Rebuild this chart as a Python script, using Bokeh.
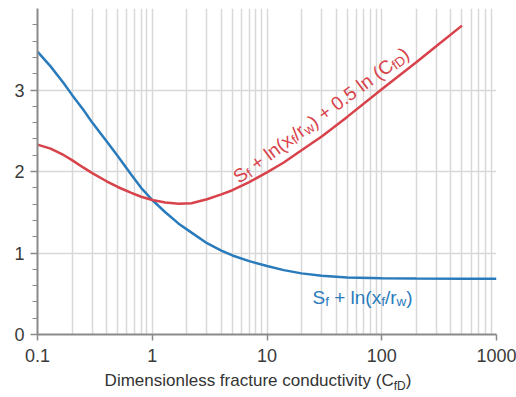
import math
from bokeh.plotting import figure
from bokeh.models import FixedTicker, Label, Div
from bokeh.layouts import column
from bokeh.embed import file_html
from bokeh.resources import INLINE

# ---- data ----
cfd_blue = [0.1, 0.13, 0.17, 0.2, 0.25, 0.3, 0.4, 0.5, 0.65, 0.8, 1.0, 1.3, 1.7, 2.2,
            3, 4, 5, 7, 10, 14, 20, 30, 50, 100, 200, 500, 1000]
blue_vals = [3.47, 3.29, 3.08, 2.94, 2.76, 2.60, 2.37, 2.19, 1.97, 1.80, 1.65, 1.50, 1.36, 1.25,
             1.12, 1.03, 0.97, 0.90, 0.84, 0.79, 0.75, 0.72, 0.70, 0.69, 0.686, 0.684, 0.683]

cfd_red = [0.1, 0.13, 0.17, 0.2, 0.25, 0.3, 0.4, 0.5, 0.65, 0.8, 1.0, 1.3, 1.7, 2.2,
           3, 4, 5, 7, 10, 14, 20, 30, 50, 100, 200, 300, 500]
red_vals = [2.33, 2.28, 2.20, 2.14, 2.05, 1.98, 1.88, 1.81, 1.74, 1.69, 1.65, 1.62, 1.605, 1.61,
            1.66, 1.72, 1.77, 1.87, 1.99, 2.11, 2.26, 2.43, 2.67, 3.01, 3.34, 3.54, 3.79]

x_ticks = [0.1, 1, 10, 100, 1000]
x_tick_labels = ["0.1", "1", "10", "100", "1000"]
x_minor = [m * d for d in [0.1, 1, 10, 100] for m in range(2, 10)]
y_ticks = [0, 1, 2, 3]
y_tick_labels = ["0", "1", "2", "3"]
y_minor = [round(0.2 * i, 1) for i in range(1, 20) if i % 5 != 0]

blue_label = [("S", 0), ("f", 1), (" + ln(x", 0), ("f", 1), ("/r", 0), ("w", 1), (")", 0)]
red_label = [("S", 0), ("f", 1), (" + ln(x", 0), ("f", 1), ("/r", 0), ("w", 1),
             (") + 0.5 ln (C", 0), ("fD", 1), (")", 0)]
x_title_main = "Dimensionless fracture conductivity (C"
x_title_sub = "fD"

BLUE = "#2a7bbb"
RED = "#d8434b"
GRID = "#d8d8d8"
AXIS = "#8a8a8a"
TXT = "#333333"
FONT = "Liberation Sans"

W, H = 516, 372
BL, BR, BT, BB = 37, 20, 8, 38
FW, FH = W - BL - BR, H - BT - BB
PXD = FW / 4.0   # px per decade
PXU = FH / 4.0   # px per unit

p = figure(width=W, height=H, x_axis_type="log", x_range=(0.1, 1000), y_range=(0, 4),
           output_backend="svg", toolbar_location=None,
           min_border_left=BL, min_border_right=BR, min_border_top=BT, min_border_bottom=BB)
p.outline_line_color = None
p.background_fill_color = "white"
p.border_fill_color = "white"

xt = FixedTicker(ticks=x_ticks, minor_ticks=x_minor)
yt = FixedTicker(ticks=y_ticks, minor_ticks=y_minor)
p.xaxis.ticker = xt
p.yaxis.ticker = yt
p.xgrid.ticker = xt
p.ygrid.ticker = FixedTicker(ticks=y_ticks)
p.xaxis.major_label_overrides = dict(zip(x_ticks, x_tick_labels))
p.yaxis.major_label_overrides = dict(zip(y_ticks, y_tick_labels))

p.xgrid.grid_line_color = GRID
p.xgrid.grid_line_width = 1.5
p.xgrid.minor_grid_line_color = GRID
p.xgrid.minor_grid_line_width = 1.5
p.ygrid.grid_line_color = GRID
p.ygrid.grid_line_width = 1.5

for ax in (p.xaxis, p.yaxis):
    ax.axis_line_color = AXIS
    ax.axis_line_width = 2
    ax.major_tick_line_color = AXIS
    ax.major_tick_line_width = 1.5
    ax.minor_tick_line_color = AXIS
    ax.minor_tick_line_width = 1.2
    ax.major_tick_in = 0
    ax.minor_tick_in = 0
    ax.major_label_text_font = FONT
    ax.major_label_text_font_size = "18px"
    ax.major_label_text_color = "#3a3a3a"

p.xaxis.major_tick_out = 6
p.xaxis.minor_tick_out = 0
p.xaxis.major_label_standoff = 8
p.yaxis.major_tick_out = 7
p.yaxis.minor_tick_out = 5
p.yaxis.major_label_standoff = 6

p.line(cfd_blue, blue_vals, line_color=BLUE, line_width=2.5)
p.line(cfd_red, red_vals, line_color=RED, line_width=2.5)

ADV = {' ': .278, '+': .584, '(': .333, ')': .333, '/': .278, '.': .278, '0': .556, '5': .556,
       'S': .667, 'C': .722, 'D': .722, 'a': .556, 'b': .556, 'c': .5, 'd': .556, 'e': .556,
       'f': .278, 'i': .222, 'l': .222, 'm': .833, 'n': .556, 'o': .556, 'r': .333, 's': .5,
       't': .278, 'u': .556, 'v': .5, 'w': .722, 'x': .5, 'y': .5}


def place(pieces, x0, y0, angle_deg, size, sub_size, drop, color):
    th = math.radians(angle_deg)
    c, s = math.cos(th), math.sin(th)
    adv = 0.0
    for txt, is_sub in pieces:
        fs = sub_size if is_sub else size
        lead = len(txt) - len(txt.lstrip(" "))
        adv += lead * ADV[' '] * fs
        body = txt.strip(" ")
        dx = adv * c + (drop * s if is_sub else 0)
        dy = adv * s - (drop * c if is_sub else 0)
        p.add_layout(Label(x=x0 * 10 ** (dx / PXD), y=y0 + dy / PXU, text=body,
                           angle=th, text_font=FONT, text_font_size=f"{fs}px",
                           text_color=color, text_baseline="alphabetic", text_align="left"))
        adv += sum(ADV.get(ch, .556) for ch in txt.lstrip(" ")) * fs


place(blue_label, 24.9, 0.454, 0, 19, 13.5, 4, BLUE)
place(red_label, 5.31, 1.91, 36.6, 19, 13.5, 4, RED)

title_html = (
    f'<div style="width:{W}px;text-align:center;font-family:\'{FONT}\';font-size:17px;'
    f'line-height:1;color:{TXT};white-space:nowrap;">'
    f'{x_title_main}<span style="font-size:12px;position:relative;top:4px;">{x_title_sub}</span>)</div>'
)
div = Div(text=title_html, width=W, height=25, margin=(0, 0, 0, 0))

layout = column(p, div, spacing=0)
open("out.html", "w").write(file_html(layout, INLINE))
